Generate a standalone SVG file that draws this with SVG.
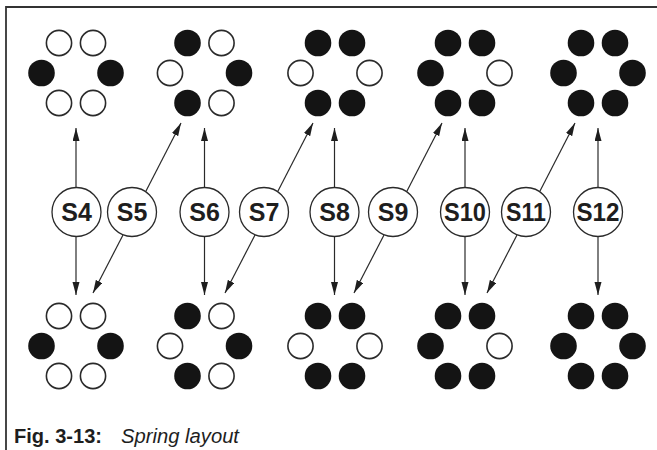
<svg xmlns="http://www.w3.org/2000/svg" width="657" height="450" viewBox="0 0 657 450">
<style>
.o{fill:#fff;stroke:#2a2a2a;stroke-width:1.6}
.f{fill:#141414;stroke:none}
.lbl circle{fill:#fff;stroke:#2a2a2a;stroke-width:1.3}
.lbl text{font-family:"Liberation Sans",Arial,sans-serif;font-weight:bold;font-size:25px;fill:#1e1e1e;text-anchor:middle}
.conn line{stroke:#2a2a2a;stroke-width:1.2;marker-end:url(#ah)}
.frame{stroke:#333;stroke-width:1.8;fill:none}
.cap{font-family:"Liberation Sans",Arial,sans-serif;font-size:20px;fill:#1e1e1e}
</style>
<defs>
<marker id="ah" markerUnits="userSpaceOnUse" markerWidth="15" markerHeight="8" refX="13" refY="3.5" orient="auto">
<path d="M0,0 L13,3.5 L0,7 z" fill="#1e1e1e"/>
</marker>
</defs>
<rect width="657" height="450" fill="#fff"/>
<path class="frame" d="M6,450 V7 H657"/>

<!-- top row clusters -->
<g id="top1" transform="translate(76,73)">
<circle class="o" cx="-17" cy="-30" r="12.6"/><circle class="o" cx="17" cy="-30" r="12.6"/>
<circle class="f" cx="-34.5" cy="0" r="13.3"/><circle class="f" cx="34.5" cy="0" r="13.3"/>
<circle class="o" cx="-17" cy="30" r="12.6"/><circle class="o" cx="17" cy="30" r="12.6"/>
</g>
<g id="top2" transform="translate(204.5,73)">
<circle class="f" cx="-17" cy="-30" r="13.3"/><circle class="o" cx="17" cy="-30" r="12.6"/>
<circle class="o" cx="-34.5" cy="0" r="12.6"/><circle class="f" cx="34.5" cy="0" r="13.3"/>
<circle class="f" cx="-17" cy="30" r="13.3"/><circle class="o" cx="17" cy="30" r="12.6"/>
</g>
<g id="top3" transform="translate(335,73)">
<circle class="f" cx="-17" cy="-30" r="13.3"/><circle class="f" cx="17" cy="-30" r="13.3"/>
<circle class="o" cx="-34.5" cy="0" r="12.6"/><circle class="o" cx="34.5" cy="0" r="12.6"/>
<circle class="f" cx="-17" cy="30" r="13.3"/><circle class="f" cx="17" cy="30" r="13.3"/>
</g>
<g id="top4" transform="translate(465,73)">
<circle class="f" cx="-17" cy="-30" r="13.3"/><circle class="f" cx="17" cy="-30" r="13.3"/>
<circle class="f" cx="-34.5" cy="0" r="13.3"/><circle class="o" cx="34.5" cy="0" r="12.6"/>
<circle class="f" cx="-17" cy="30" r="13.3"/><circle class="f" cx="17" cy="30" r="13.3"/>
</g>
<g id="top5" transform="translate(598,73)">
<circle class="f" cx="-17" cy="-30" r="13.3"/><circle class="f" cx="17" cy="-30" r="13.3"/>
<circle class="f" cx="-34.5" cy="0" r="13.3"/><circle class="f" cx="34.5" cy="0" r="13.3"/>
<circle class="f" cx="-17" cy="30" r="13.3"/><circle class="f" cx="17" cy="30" r="13.3"/>
</g>

<!-- bottom row clusters -->
<g id="bot1" transform="translate(76,346)">
<circle class="o" cx="-17" cy="-30" r="12.6"/><circle class="o" cx="17" cy="-30" r="12.6"/>
<circle class="f" cx="-34.5" cy="0" r="13.3"/><circle class="f" cx="34.5" cy="0" r="13.3"/>
<circle class="o" cx="-17" cy="30" r="12.6"/><circle class="o" cx="17" cy="30" r="12.6"/>
</g>
<g id="bot2" transform="translate(204.5,346)">
<circle class="f" cx="-17" cy="-30" r="13.3"/><circle class="o" cx="17" cy="-30" r="12.6"/>
<circle class="o" cx="-34.5" cy="0" r="12.6"/><circle class="f" cx="34.5" cy="0" r="13.3"/>
<circle class="f" cx="-17" cy="30" r="13.3"/><circle class="o" cx="17" cy="30" r="12.6"/>
</g>
<g id="bot3" transform="translate(335,346)">
<circle class="f" cx="-17" cy="-30" r="13.3"/><circle class="f" cx="17" cy="-30" r="13.3"/>
<circle class="o" cx="-34.5" cy="0" r="12.6"/><circle class="o" cx="34.5" cy="0" r="12.6"/>
<circle class="f" cx="-17" cy="30" r="13.3"/><circle class="f" cx="17" cy="30" r="13.3"/>
</g>
<g id="bot4" transform="translate(465,346)">
<circle class="f" cx="-17" cy="-30" r="13.3"/><circle class="f" cx="17" cy="-30" r="13.3"/>
<circle class="f" cx="-34.5" cy="0" r="13.3"/><circle class="o" cx="34.5" cy="0" r="12.6"/>
<circle class="f" cx="-17" cy="30" r="13.3"/><circle class="f" cx="17" cy="30" r="13.3"/>
</g>
<g id="bot5" transform="translate(598,346)">
<circle class="f" cx="-17" cy="-30" r="13.3"/><circle class="f" cx="17" cy="-30" r="13.3"/>
<circle class="f" cx="-34.5" cy="0" r="13.3"/><circle class="f" cx="34.5" cy="0" r="13.3"/>
<circle class="f" cx="-17" cy="30" r="13.3"/><circle class="f" cx="17" cy="30" r="13.3"/>
</g>

<!-- connectors -->
<g id="connectors" class="conn">
<line x1="76" y1="187" x2="76" y2="128"/><line x1="76" y1="237" x2="76" y2="295"/>
<line x1="204.5" y1="187" x2="204.5" y2="128"/><line x1="204.5" y1="237" x2="204.5" y2="295"/>
<line x1="334.5" y1="187" x2="334.5" y2="128"/><line x1="334.5" y1="237" x2="334.5" y2="295"/>
<line x1="465" y1="187" x2="465" y2="128"/><line x1="465" y1="237" x2="465" y2="295"/>
<line x1="598" y1="187" x2="598" y2="128"/><line x1="598" y1="237" x2="598" y2="295"/>
<line x1="146" y1="191" x2="181" y2="123"/><line x1="123" y1="235" x2="93" y2="293"/>
<line x1="278" y1="191" x2="313" y2="123"/><line x1="255" y1="235" x2="225" y2="293"/>
<line x1="407" y1="191" x2="442" y2="123"/><line x1="384" y1="235" x2="354" y2="293"/>
<line x1="540" y1="191" x2="575" y2="123"/><line x1="517" y1="235" x2="487" y2="293"/>
</g>

<!-- labels -->
<g id="S4" class="lbl"><circle cx="76.5" cy="212" r="24.5"/><text x="76.5" y="221">S4</text></g>
<g id="S5" class="lbl"><circle cx="132" cy="212" r="24.5"/><text x="132" y="221">S5</text></g>
<g id="S6" class="lbl"><circle cx="204.5" cy="212" r="24.5"/><text x="204.5" y="221">S6</text></g>
<g id="S7" class="lbl"><circle cx="264" cy="212" r="24.5"/><text x="264" y="221">S7</text></g>
<g id="S8" class="lbl"><circle cx="334.5" cy="212" r="24.5"/><text x="334.5" y="221">S8</text></g>
<g id="S9" class="lbl"><circle cx="393" cy="212" r="24.5"/><text x="393" y="221">S9</text></g>
<g id="S10" class="lbl"><circle cx="465" cy="212" r="24.5"/><text x="465" y="221" textLength="42" lengthAdjust="spacingAndGlyphs">S10</text></g>
<g id="S11" class="lbl"><circle cx="526" cy="212" r="24.5"/><text x="526" y="221" textLength="40" lengthAdjust="spacingAndGlyphs">S11</text></g>
<g id="S12" class="lbl"><circle cx="598" cy="212" r="24.5"/><text x="598" y="221" textLength="43" lengthAdjust="spacingAndGlyphs">S12</text></g>

<!-- caption -->
<text class="cap" x="14" y="443" font-weight="bold" textLength="88" lengthAdjust="spacingAndGlyphs">Fig. 3-13:</text>
<text class="cap" x="121" y="443" font-style="italic" textLength="118" lengthAdjust="spacingAndGlyphs">Spring layout</text>
</svg>
